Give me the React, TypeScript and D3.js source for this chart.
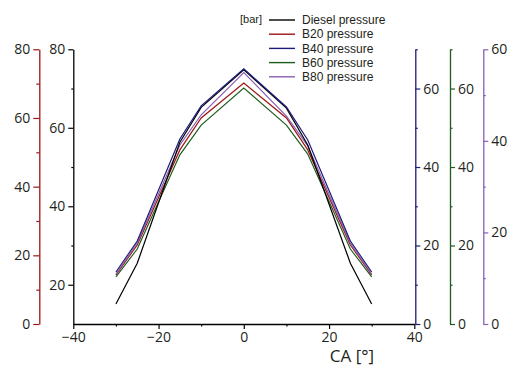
import React, { useEffect, useRef } from "react";
import * as d3 from "d3";

const ca = [-30, -25, -15, -10, 0, 10, 15, 25, 30];
const diesel = [15.1, 25.5, 56.3, 65.2, 74.8, 65.0, 55.6, 25.5, 15.1];
const b20 = [14.3, 23.0, 50.7, 60.0, 70.2, 60.0, 50.7, 23.0, 14.3];
const b40 = [13.25, 21.15, 47.15, 55.6, 65.0, 55.3, 46.9, 21.15, 13.25];
const b60 = [12.0, 19.1, 43.1, 50.7, 60.1, 50.7, 43.3, 19.1, 12.0];
const b80 = [10.9, 17.7, 39.1, 45.7, 54.9, 45.4, 38.9, 17.7, 10.9];

const seriesNames = ["Diesel pressure", "B20 pressure", "B40 pressure", "B60 pressure", "B80 pressure"];
const xTicks = [-40, -20, 0, 20, 40];
const xMinor = [-30, -10, 10, 30];

const FONT = "'Open Sans', 'Noto Sans', sans-serif";
const LEG_FONT = "'Liberation Sans', Arial, sans-serif";

export default function App() {
  const ref = useRef<SVGSVGElement>(null);

  useEffect(() => {
    const svg = d3.select(ref.current);
    svg.selectAll("*").remove();

    const top = 49.3;
    const bottom = 324;
    const left = 73.3;
    const right = 414.3;

    const x = d3.scaleLinear().domain([-40, 40]).range([left, right]);
    const yBlack = d3.scaleLinear().domain([10, 80]).range([bottom, top]);
    const yRed = d3.scaleLinear().domain([0, 80]).range([bottom, top]);
    const yBlue = d3.scaleLinear().domain([0, 70]).range([bottom, top]);
    const yGreen = d3.scaleLinear().domain([0, 70]).range([bottom, top]);
    const yPurple = d3.scaleLinear().domain([0, 60]).range([bottom, top]);

    const cBlack = "#000000";
    const cRed = "#9b1515";
    const cBlue = "#1b1b7a";
    const cGreen = "#1d5e1d";
    const cPurple = "#8a5fb3";

    function drawAxis(
      axisFn: any,
      scale: any,
      pos: [number, number],
      major: number[],
      minor: number[],
      color: string,
      majorLen: number,
      minorLen: number
    ) {
      const g = svg.append("g").attr("transform", `translate(${pos[0]},${pos[1]})`);
      const gMin = g.append("g").call(
        axisFn(scale).tickValues(minor).tickSize(minorLen).tickSizeOuter(0).tickFormat(() => "")
      );
      const gMaj = g.append("g").call(
        axisFn(scale).tickValues(major).tickSize(majorLen).tickSizeOuter(0).tickPadding(3)
      );
      [gMin, gMaj].forEach((gg) => {
        gg.select(".domain").attr("stroke", color).attr("stroke-width", 1.3);
        gg.selectAll(".tick line").attr("stroke", color).attr("stroke-width", 1.2);
        gg.selectAll(".tick text")
          .attr("fill", "#231f20")
          .style("font-family", FONT)
          .style("font-size", "14px");
      });
      gMin.select(".domain").remove();
      return g;
    }

    // x axis
    drawAxis(d3.axisBottom, x, [0, bottom], xTicks, xMinor, "#000", 5, 2.5);

    // left axes
    drawAxis(d3.axisLeft, yRed, [39.3, 0], [0, 20, 40, 60, 80], [10, 30, 50, 70], cRed, 6, 3);
    drawAxis(d3.axisLeft, yBlack, [left, 0], [20, 40, 60, 80], [30, 50, 70], cBlack, 5, 2);

    // right axes
    drawAxis(d3.axisRight, yBlue, [right + 1, 0], [0, 20, 40, 60], [10, 30, 50, 70], cBlue, 5, 2.5);
    drawAxis(d3.axisRight, yGreen, [450, 0], [0, 20, 40, 60], [10, 30, 50, 70], cGreen, 5, 2.5);
    drawAxis(d3.axisRight, yPurple, [483.3, 0], [0, 20, 40, 60], [10, 30, 50], cPurple, 5, 2.5);

    const series = [
      { vals: b60, y: yGreen, color: cGreen },
      { vals: b20, y: yRed, color: cRed },
      { vals: b80, y: yPurple, color: cPurple },
      { vals: diesel, y: yBlack, color: cBlack },
      { vals: b40, y: yBlue, color: cBlue },
    ];

    series.forEach((s) => {
      const line = d3
        .line<number>()
        .x((_, i) => x(ca[i]))
        .y((d) => s.y(d));
      svg
        .append("path")
        .attr("d", line(s.vals) as string)
        .attr("fill", "none")
        .attr("stroke", s.color)
        .attr("stroke-width", 1.2);
    });

    // x label
    svg
      .append("text")
      .attr("x", 352)
      .attr("y", 362)
      .attr("text-anchor", "middle")
      .attr("fill", "#231f20")
      .style("font-family", FONT)
      .style("font-size", "17px")
      .text("CA [°]");

    // legend
    const legColors = [cBlack, cRed, cBlue, cGreen, cPurple];
    svg
      .append("text")
      .attr("x", 240)
      .attr("y", 23)
      .attr("fill", "#231f20")
      .style("font-family", LEG_FONT)
      .style("font-size", "11px")
      .text("[bar]");
    seriesNames.forEach((name, i) => {
      const yy = 20 + i * 14.2;
      svg
        .append("line")
        .attr("x1", 269)
        .attr("x2", 295)
        .attr("y1", yy)
        .attr("y2", yy)
        .attr("stroke", legColors[i])
        .attr("stroke-width", 1.4);
      svg
        .append("text")
        .attr("x", 302)
        .attr("y", yy + 4.2)
        .attr("fill", "#231f20")
        .style("font-family", LEG_FONT)
        .style("font-size", "12px")
        .text(name);
    });
  }, []);

  return (
    <svg
      ref={ref}
      width={508}
      height={367}
      style={{ position: "absolute", left: 0, top: 0, background: "#fff" }}
    />
  );
}
